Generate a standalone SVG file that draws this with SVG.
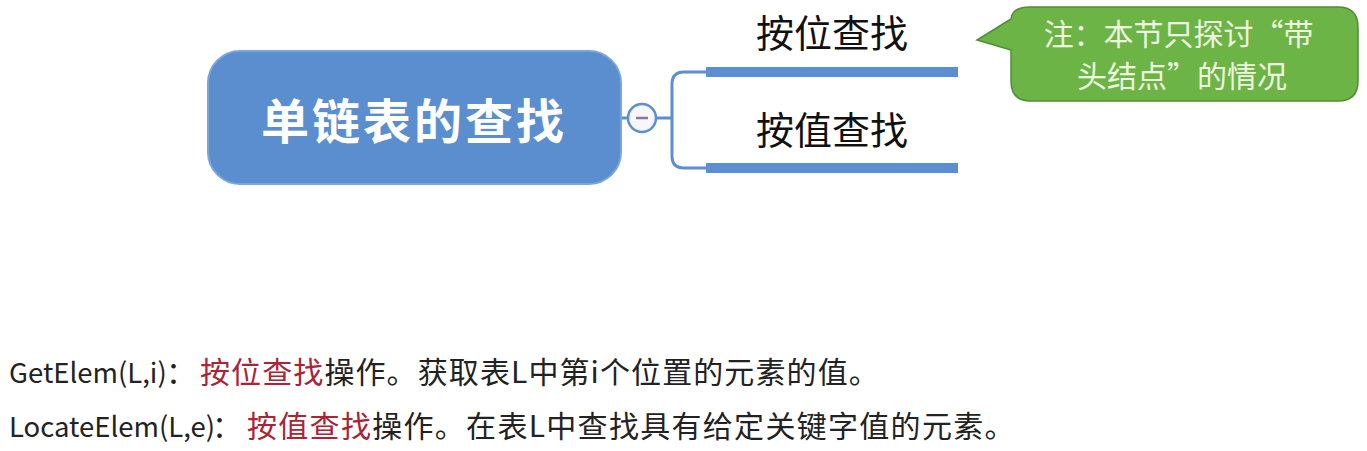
<svg xmlns="http://www.w3.org/2000/svg" width="1367" height="451" viewBox="0 0 1367 451">
<style>
.cjk{font-family:"Noto Sans CJK SC","Noto Sans",sans-serif}
.lbl{font-size:38px;fill:#111}
.bar{fill:#5b8ed3}
.conn{fill:none;stroke:#5b8ed3;stroke-width:3}
.desc{font-size:30px;fill:#222}
.lat{font-size:27.5px}
.red{fill:#a82436}
</style>
<rect width="1367" height="451" fill="#fff"/>
<g id="connectors">
<path class="conn" d="M620,118 H628"/>
<path class="conn" d="M656,118 H672"/>
<path class="conn" d="M708,72 H684 Q672,72 672,84 V156 Q672,168 684,168 H708"/>
</g>
<g id="root">
<rect x="208" y="51" width="413" height="133" rx="32" fill="#5a8ecf" stroke="#7aa6dc" stroke-width="2"/>
<text class="cjk" x="414" y="139" text-anchor="middle" font-size="48" font-weight="bold" fill="#fff" letter-spacing="3">单链表的查找</text>
</g>
<g id="collapse">
<circle cx="642" cy="118" r="14" fill="#f6f6fb" stroke="#5b8ed3" stroke-width="2.5"/>
<line x1="636" y1="118" x2="648" y2="118" stroke="#85789a" stroke-width="2.5"/>
</g>
<g id="node-pos">
<rect class="bar" x="706" y="67" width="252" height="10"/>
<text class="cjk lbl" x="832" y="47" text-anchor="middle">按位查找</text>
</g>
<g id="node-val">
<rect class="bar" x="706" y="163" width="252" height="10"/>
<text class="cjk lbl" x="832" y="144" text-anchor="middle">按值查找</text>
</g>
<g id="note">
<path d="M1030,7 H1338 Q1358,7 1358,27 V81 Q1358,101 1338,101 H1030 Q1011,101 1011,81 V50 L977,40 L1011,19 Q1012,7 1030,7 Z" fill="#6cb446" stroke="#4f8d33" stroke-width="1.5"/>
<text class="cjk" font-size="30" fill="#eef6e0" text-anchor="middle">
<tspan x="1182" y="45">注：本节只探讨“带</tspan>
<tspan x="1182" y="87">头结点”的情况</tspan>
</text>
</g>
<g id="desc">
<text class="cjk desc lat" x="9" y="383">GetElem(L,i)</text>
<text class="cjk desc" x="181" y="383" text-anchor="middle">：</text>
<text class="cjk desc" x="200" y="383" letter-spacing="1.1"><tspan class="red">按位查找</tspan>操作。获取表L中第i个位置的元素的值。</text>
<text class="cjk desc lat" x="9" y="437">LocateElem(L,e)</text>
<text class="cjk desc" x="227" y="437" text-anchor="middle">：</text>
<text class="cjk desc" x="247" y="437" letter-spacing="1.3"><tspan class="red">按值查找</tspan>操作。在表L中查找具有给定关键字值的元素。</text>
</g>
</svg>
